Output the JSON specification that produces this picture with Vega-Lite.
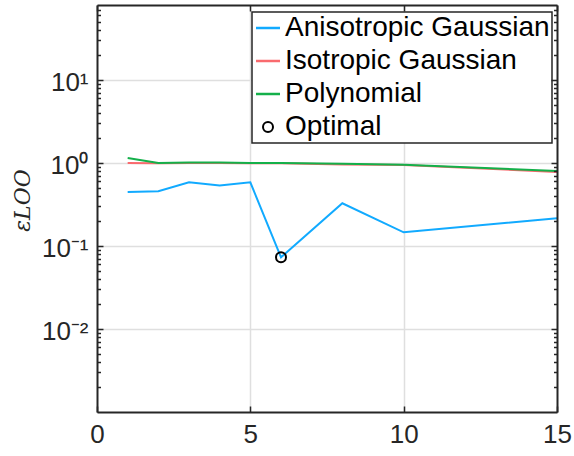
{
  "$schema": "https://vega.github.io/schema/vega-lite/v6.json",
  "width": 460,
  "height": 407,
  "autosize": {"type": "none"},
  "padding": {"left": 97, "top": 5, "right": 17, "bottom": 44},
  "background": "white",
  "config": {
    "view": {"stroke": null},
    "axis": {"labelFont": "Liberation Sans", "labelFontSize": 26, "labelColor": "#262626", "tickColor": "#262626", "domainColor": "#262626", "gridColor": "#DFDFDF", "gridWidth": 1.5, "tickWidth": 1.5, "domainWidth": 2}
  },
  "data": {
    "values": [
      {"series": "Anisotropic Gaussian", "x": 1, "y": 0.448},
      {"series": "Anisotropic Gaussian", "x": 2, "y": 0.456},
      {"series": "Anisotropic Gaussian", "x": 3, "y": 0.585},
      {"series": "Anisotropic Gaussian", "x": 4, "y": 0.537},
      {"series": "Anisotropic Gaussian", "x": 5, "y": 0.585},
      {"series": "Anisotropic Gaussian", "x": 6, "y": 0.073},
      {"series": "Anisotropic Gaussian", "x": 8, "y": 0.327},
      {"series": "Anisotropic Gaussian", "x": 10, "y": 0.146},
      {"series": "Anisotropic Gaussian", "x": 15, "y": 0.216},
      {"series": "Isotropic Gaussian", "x": 1, "y": 1.0},
      {"series": "Isotropic Gaussian", "x": 2, "y": 0.995},
      {"series": "Isotropic Gaussian", "x": 3, "y": 1.0},
      {"series": "Isotropic Gaussian", "x": 4, "y": 1.0},
      {"series": "Isotropic Gaussian", "x": 5, "y": 0.99},
      {"series": "Isotropic Gaussian", "x": 6, "y": 0.99},
      {"series": "Isotropic Gaussian", "x": 8, "y": 0.96},
      {"series": "Isotropic Gaussian", "x": 10, "y": 0.945},
      {"series": "Isotropic Gaussian", "x": 15, "y": 0.78},
      {"series": "Polynomial", "x": 1, "y": 1.15},
      {"series": "Polynomial", "x": 2, "y": 1.0},
      {"series": "Polynomial", "x": 3, "y": 1.01},
      {"series": "Polynomial", "x": 4, "y": 1.01},
      {"series": "Polynomial", "x": 5, "y": 1.0},
      {"series": "Polynomial", "x": 6, "y": 1.0},
      {"series": "Polynomial", "x": 8, "y": 0.98},
      {"series": "Polynomial", "x": 10, "y": 0.955},
      {"series": "Polynomial", "x": 15, "y": 0.8},
      {"series": "Optimal", "x": 6, "y": 0.073}
    ]
  },
  "layer": [
    {
      "transform": [{"filter": "datum.series !== 'Optimal'"}],
      "mark": {"type": "line", "strokeWidth": 2},
      "encoding": {
        "x": {"field": "x", "type": "quantitative", "scale": {"domain": [0, 15], "nice": false, "zero": false},
          "axis": {"orient": "bottom", "values": [0, 5, 10, 15], "ticks": false, "domain": false, "grid": false, "labelPadding": 9, "labelFlush": false, "labelOverlap": false, "labelBound": false, "title": null, "zindex": 1}},
        "y": {"field": "y", "type": "quantitative", "scale": {"type": "log", "domain": [0.001, 80], "nice": false},
          "axis": {"orient": "left", "values": [0.01, 0.1, 1, 10], "labelExpr": "'10' + (datum.value >= 5 ? '¹' : datum.value >= 0.5 ? '⁰' : datum.value >= 0.05 ? '⁻¹' : '⁻²')", "ticks": false, "domain": false, "grid": false, "labelPadding": 9, "labelOffset": 3, "labelOverlap": false, "labelBound": false, "labelFlush": false,
            "title": "εLOO", "titleFont": "DejaVu Serif", "titleFontStyle": "italic", "titleFontWeight": "normal", "titleFontSize": 22, "titleColor": "#262626", "titleX": -75, "titleY": 195, "titleAngle": 270, "titleAlign": "center", "titleBaseline": "middle", "zindex": 1}},
        "color": {"field": "series", "type": "nominal",
          "scale": {"domain": ["Anisotropic Gaussian", "Isotropic Gaussian", "Polynomial", "Optimal"], "range": ["#11AAFF", "#F96A6E", "#14B04A", "#000000"]},
          "legend": {"orient": "none", "legendX": 155, "legendY": 7, "title": null, "direction": "vertical", "symbolType": "stroke", "symbolSize": 576, "symbolStrokeWidth": 2.5, "labelFontSize": 28, "labelFont": "Liberation Sans", "labelColor": "black", "labelOffset": 3, "labelLimit": 400, "rowPadding": 5, "padding": 2, "strokeColor": "#262626", "fillColor": "white",
            "encode": {
              "legend": {"update": {"strokeWidth": {"value": 1.5}}},
              "symbols": {"update": {
                "shape": {"signal": "datum.value === 'Optimal' ? 'circle' : 'stroke'"},
                "size": {"signal": "datum.value === 'Optimal' ? 100 : 576"},
                "strokeWidth": {"signal": "datum.value === 'Optimal' ? 2 : 2.5"},
                "fill": {"value": "transparent"}
              }}
            }}}
      }
    },
    {
      "transform": [{"filter": "datum.series === 'Optimal'"}],
      "mark": {"type": "point", "shape": "circle", "filled": false, "color": "black", "size": 100, "strokeWidth": 2, "opacity": 1},
      "encoding": {
        "x": {"field": "x", "type": "quantitative", "scale": {"domain": [0, 15], "nice": false, "zero": false},
          "axis": {"orient": "bottom", "values": [5, 10], "grid": true, "labels": false, "ticks": false, "domain": false, "title": null, "zindex": 0}},
        "y": {"field": "y", "type": "quantitative", "scale": {"type": "log", "domain": [0.001, 80], "nice": false},
          "axis": {"orient": "left", "values": [0.01, 0.1, 1, 10], "grid": true, "labels": false, "ticks": false, "domain": false, "title": null, "zindex": 0}}
      }
    },
    {
      "transform": [{"filter": "datum.series === 'Optimal'"}],
      "mark": {"type": "point", "opacity": 0},
      "encoding": {
        "x": {"field": "x", "type": "quantitative", "scale": {"domain": [0, 15], "nice": false, "zero": false},
          "axis": {"orient": "bottom", "values": [0, 5, 10, 15], "grid": false, "labels": false, "ticks": true, "tickSize": -6, "domain": true, "title": null, "zindex": 2}},
        "y": {"field": "y", "type": "quantitative", "scale": {"type": "log", "domain": [0.001, 80], "nice": false},
          "axis": {"orient": "left", "values": [0.01, 0.1, 1, 10], "grid": false, "labels": false, "ticks": true, "tickSize": -6, "domain": true, "title": null, "zindex": 2}}
      }
    },
    {
      "transform": [{"filter": "datum.series === 'Optimal'"}],
      "mark": {"type": "point", "opacity": 0},
      "encoding": {
        "x": {"field": "x", "type": "quantitative", "scale": {"domain": [0, 15], "nice": false, "zero": false},
          "axis": {"orient": "top", "values": [0, 5, 10, 15], "grid": false, "labels": false, "ticks": true, "tickSize": -6, "domain": true, "title": null, "zindex": 2}},
        "y": {"field": "y", "type": "quantitative", "scale": {"type": "log", "domain": [0.001, 80], "nice": false},
          "axis": {"orient": "right", "values": [0.01, 0.1, 1, 10], "grid": false, "labels": false, "ticks": true, "tickSize": -6, "domain": true, "title": null, "zindex": 2}}
      }
    },
    {
      "transform": [{"filter": "datum.series === 'Optimal'"}],
      "mark": {"type": "point", "opacity": 0},
      "encoding": {
        "x": {"field": "x", "type": "quantitative", "scale": {"domain": [0, 15], "nice": false, "zero": false}, "axis": null},
        "y": {"field": "y", "type": "quantitative", "scale": {"type": "log", "domain": [0.001, 80], "nice": false},
          "axis": {"orient": "left", "values": [0.002, 0.003, 0.004, 0.005, 0.006, 0.007, 0.008, 0.009, 0.02, 0.03, 0.04, 0.05, 0.06, 0.07, 0.08, 0.09, 0.2, 0.3, 0.4, 0.5, 0.6, 0.7, 0.8, 0.9, 2, 3, 4, 5, 6, 7, 8, 9, 20, 30, 40, 50, 60, 70], "grid": false, "labels": false, "ticks": true, "tickSize": -3.5, "domain": false, "title": null, "zindex": 2}}
      }
    },
    {
      "transform": [{"filter": "datum.series === 'Optimal'"}],
      "mark": {"type": "point", "opacity": 0},
      "encoding": {
        "x": {"field": "x", "type": "quantitative", "scale": {"domain": [0, 15], "nice": false, "zero": false}, "axis": null},
        "y": {"field": "y", "type": "quantitative", "scale": {"type": "log", "domain": [0.001, 80], "nice": false},
          "axis": {"orient": "right", "values": [0.002, 0.003, 0.004, 0.005, 0.006, 0.007, 0.008, 0.009, 0.02, 0.03, 0.04, 0.05, 0.06, 0.07, 0.08, 0.09, 0.2, 0.3, 0.4, 0.5, 0.6, 0.7, 0.8, 0.9, 2, 3, 4, 5, 6, 7, 8, 9, 20, 30, 40, 50, 60, 70], "grid": false, "labels": false, "ticks": true, "tickSize": -3.5, "domain": false, "title": null, "zindex": 2}}
      }
    }
  ],
  "resolve": {"axis": {"x": "independent", "y": "independent"}}
}
